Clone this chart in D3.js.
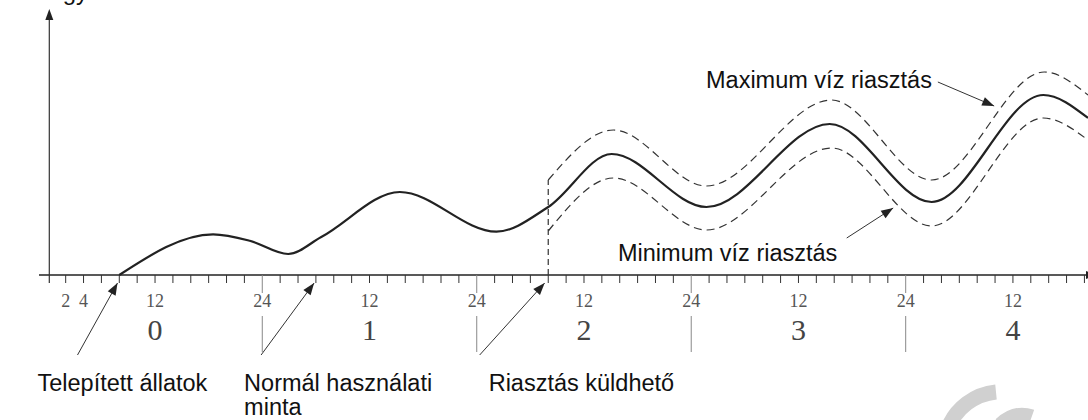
<!DOCTYPE html>
<html>
<head>
<meta charset="utf-8">
<script src="https://cdn.jsdelivr.net/npm/d3@7/dist/d3.min.js"></script>
<style>
  html, body { margin: 0; padding: 0; background: #fff; }
  svg { display: block; }
</style>
</head>
<body>
<svg id="chart" width="1088" height="420"></svg>
<script>
// Hours since installation and relative water consumption
const mainHours  = [8, 18.5, 22.6, 26.9, 30.6, 39.4, 50.2, 56, 63.1, 73.7, 87.5, 98.9, 111.4, 116.4];
const mainValues = [0, 40.7, 34.3, 21, 38, 83, 43.3, 68, 121, 68, 151, 73, 180, 157];

// Upper alarm limit (maximum water)
const maxHours  = [56, 63.3, 73.7, 87.7, 98.9, 111.5, 116.4];
const maxValues = [95, 145, 89, 175, 95, 203, 180];

// Lower alarm limit (minimum water)
const minHours  = [56, 63.3, 73.7, 87.7, 98.9, 111.4, 116.4];
const minValues = [44, 97, 45, 127, 49, 157, 135];

// Axis ticks and labels
const tickHours   = d3.range(0, 117, 2);
const hourLabels  = ["2", "4", "12", "24", "12", "24", "12", "24", "12", "24", "12"];
const hourLabelAt = [2, 4, 12, 24, 36, 48, 60, 72, 84, 96, 108];
const dayLabels   = ["0", "1", "2", "3", "4"];
const dayLabelAt  = [12, 36, 60, 84, 108];
const dayBreaks   = [24, 48, 72, 96];

// Callouts below the axis
const calloutTexts = ["Telepített állatok", "Normál használati\nminta", "Riasztás küldhető"];
const calloutHours = [7.8, 29.8, 55.6];

// Callouts for the alarm envelopes
const bandTexts     = ["Maximum víz riasztás", "Minimum víz riasztás"];
const bandTipHours  = [105.9, 94.6];
const bandTipVals   = [169, 67];
const bandTailHours = [99.6, 89.4];
const bandTailVals  = [193, 37];

const svg = d3.select("#chart");
const x = d3.scaleLinear().domain([0, 116.4]).range([47.8, 1088]);
const y = d3.scaleLinear().domain([0, 265]).range([275, 10]);
const axisY = y(0);

const SANS = "'Liberation Sans', Arial, sans-serif";
const SERIF = "'Liberation Serif', 'Times New Roman', serif";
const LABEL_SIZE = 23.5;

// light logo mark in the corner
svg.append("path")
  .attr("d", "M948,428 A58,58 0 0,1 996,392")
  .attr("fill", "none").attr("stroke", "#d0d0d0").attr("stroke-width", 15);
svg.append("path")
  .attr("d", "M1000,424 Q1015,410 1032,416")
  .attr("fill", "none").attr("stroke", "#d0d0d0").attr("stroke-width", 13);

// y-axis title (runs off the top edge)
svg.append("text")
  .attr("x", 8).attr("y", -0.5)
  .attr("font-family", SANS).attr("font-size", 24).attr("fill", "#111")
  .text("Vízfogyasztás");

// axes
svg.append("line")
  .attr("x1", 39).attr("x2", 1087).attr("y1", axisY).attr("y2", axisY)
  .attr("stroke", "#222").attr("stroke-width", 1.6);
svg.append("path")
  .attr("d", `M1086,${axisY - 4} L1098,${axisY} L1086,${axisY + 4} Z`)
  .attr("fill", "#222");

const yx = x(0) + 1.5;
svg.append("line")
  .attr("x1", yx).attr("x2", yx).attr("y1", axisY + 8).attr("y2", 20)
  .attr("stroke", "#333").attr("stroke-width", 1.2);
svg.append("path")
  .attr("d", `M${yx - 4},20 L${yx},9 L${yx + 4},20 Z`)
  .attr("fill", "#222");

// minor ticks every 2 hours
svg.append("g").selectAll("line")
  .data(tickHours.filter(h => h > 0 && !dayBreaks.includes(h)))
  .join("line")
  .attr("x1", d => x(d)).attr("x2", d => x(d))
  .attr("y1", axisY).attr("y2", axisY + 8)
  .attr("stroke", "#333").attr("stroke-width", 1);

// day boundaries
const breaks = svg.append("g");
breaks.selectAll("line.major").data(dayBreaks).join("line")
  .attr("class", "major")
  .attr("x1", d => x(d)).attr("x2", d => x(d))
  .attr("y1", axisY).attr("y2", axisY + 18)
  .attr("stroke", "#888").attr("stroke-width", 1);
breaks.selectAll("line.sep").data(dayBreaks).join("line")
  .attr("class", "sep")
  .attr("x1", d => x(d)).attr("x2", d => x(d))
  .attr("y1", 316).attr("y2", 352)
  .attr("stroke", "#888").attr("stroke-width", 1);

// hour labels
svg.append("g").selectAll("text")
  .data(hourLabels).join("text")
  .attr("x", (d, i) => x(hourLabelAt[i]))
  .attr("y", 307)
  .attr("text-anchor", "middle")
  .attr("font-family", SERIF).attr("font-size", 18).attr("fill", "#555")
  .text(d => d);

// day labels
svg.append("g").selectAll("text")
  .data(dayLabels).join("text")
  .attr("x", (d, i) => x(dayLabelAt[i]))
  .attr("y", 340)
  .attr("text-anchor", "middle")
  .attr("font-family", SERIF).attr("font-size", 30).attr("fill", "#444")
  .text(d => d);

// curves
const line = d3.line().x(d => x(d[0])).y(d => y(d[1])).curve(d3.curveMonotoneX);
svg.append("path")
  .datum(maxHours.map((h, i) => [h, maxValues[i]]))
  .attr("d", line).attr("fill", "none")
  .attr("stroke", "#333").attr("stroke-width", 1.2).attr("stroke-dasharray", "8,5");
svg.append("path")
  .datum(minHours.map((h, i) => [h, minValues[i]]))
  .attr("d", line).attr("fill", "none")
  .attr("stroke", "#333").attr("stroke-width", 1.2).attr("stroke-dasharray", "8,5");
svg.append("line")
  .attr("x1", x(maxHours[0])).attr("x2", x(maxHours[0]))
  .attr("y1", axisY).attr("y2", y(maxValues[0]))
  .attr("stroke", "#333").attr("stroke-width", 1.2).attr("stroke-dasharray", "6,4");
svg.append("path")
  .datum(mainHours.map((h, i) => [h, mainValues[i]]))
  .attr("d", line).attr("fill", "none")
  .attr("stroke", "#222").attr("stroke-width", 2.2);

// arrow helper
function arrow(x1, y1, x2, y2) {
  svg.append("line")
    .attr("x1", x1).attr("y1", y1).attr("x2", x2).attr("y2", y2)
    .attr("stroke", "#333").attr("stroke-width", 1);
  const a = Math.atan2(y2 - y1, x2 - x1);
  const L = 12, W = 4.5;
  const bx = x2 - L * Math.cos(a), by = y2 - L * Math.sin(a);
  const px = -Math.sin(a) * W, py = Math.cos(a) * W;
  svg.append("path")
    .attr("d", `M${x2},${y2} L${bx + px},${by + py} L${bx - px},${by - py} Z`)
    .attr("fill", "#222");
}

// callouts below the axis: arrow tail offset and text offset from the tip
const tailShift = [-40, -53, -65];
const textShift = [-80, -70, -56];
calloutTexts.forEach((t, i) => {
  const tipX = x(calloutHours[i]);
  const tipY = axisY + 8;
  arrow(tipX + tailShift[i], 355, tipX, tipY);
  const tx = tipX + textShift[i];
  const txt = svg.append("text")
    .attr("font-family", SANS).attr("font-size", LABEL_SIZE).attr("fill", "#111");
  t.split("\n").forEach((l, j) => {
    txt.append("tspan").attr("x", tx).attr("y", 391 + j * 24).text(l);
  });
});

// envelope callouts
arrow(x(bandTailHours[0]), y(bandTailVals[0]), x(bandTipHours[0]), y(bandTipVals[0]));
arrow(x(bandTailHours[1]), y(bandTailVals[1]), x(bandTipHours[1]), y(bandTipVals[1]));
svg.append("text")
  .attr("x", 706).attr("y", 88)
  .attr("font-family", SANS).attr("font-size", LABEL_SIZE).attr("fill", "#111")
  .text(bandTexts[0]);
svg.append("text")
  .attr("x", 618).attr("y", 261)
  .attr("font-family", SANS).attr("font-size", LABEL_SIZE).attr("fill", "#111")
  .text(bandTexts[1]);
</script>
</body>
</html>
